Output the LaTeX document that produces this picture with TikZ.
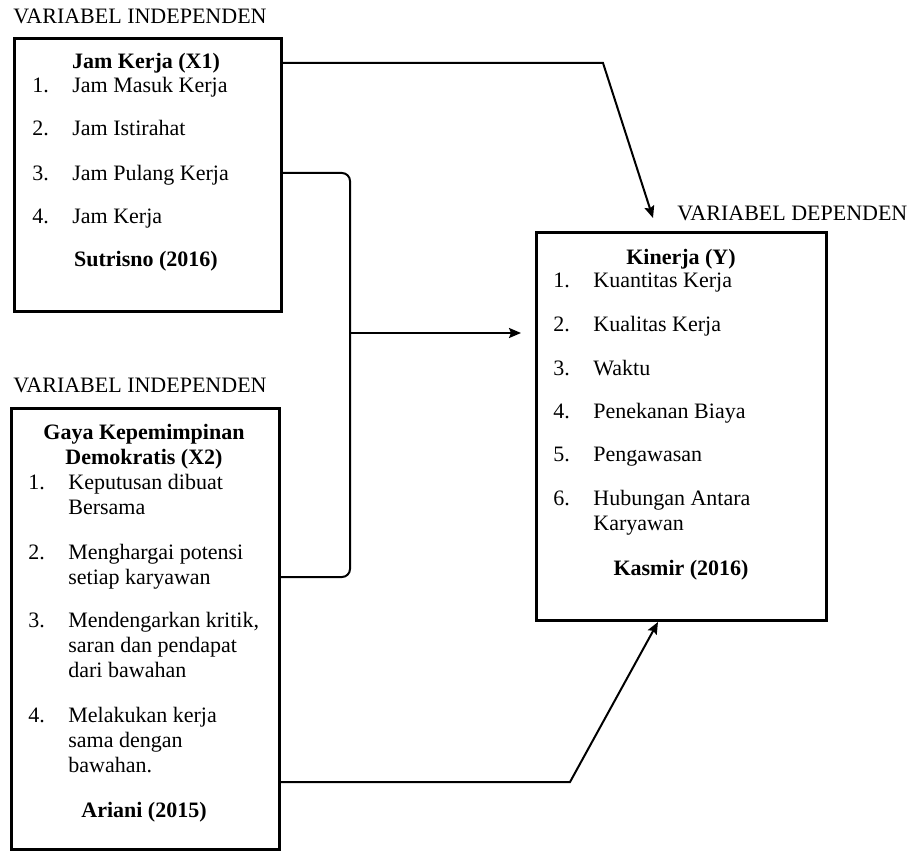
\documentclass[tikz,border=0pt]{standalone}
\usepackage{fontspec}
\setmainfont{Liberation Serif}
\usetikzlibrary{positioning,arrows.meta}
\tikzset{
  varbox/.style={draw,line width=1.5pt,anchor=north west,inner sep=0pt},
  varlabel/.style={anchor=base west,inner sep=0pt},
  head/.style={anchor=base,inner sep=0pt,align=center,font=\fontsize{11}{12.5}\selectfont\bfseries},
  num/.style={anchor=base west,inner sep=0pt},
  item/.style={anchor=base west,inner sep=0pt,align=left},
  link/.style={line width=1pt},
  arr/.style={link,-{Stealth[length=6pt,width=5pt,inset=1pt]}}
}
\begin{document}
\begin{tikzpicture}[x=0.5pt,y=-0.5pt,font=\fontsize{11}{12.5}\selectfont]
\useasboundingbox (0,0) rectangle (913,850);
% boxes
\node[varbox,minimum width=133.5pt,minimum height=136.5pt] (jam) at (13,37) {};
\node[varbox,minimum width=134pt,minimum height=220.5pt] (gaya) at (10,407) {};
\node[varbox,minimum width=145pt,minimum height=194pt] (kinerja) at (535,231) {};
% labels
\node[varlabel] (lab1) at (13,24) {VARIABEL INDEPENDEN};
\node[varlabel] (lab2) at (13,392) {VARIABEL INDEPENDEN};
\node[varlabel] (lab3) at (677,220) {VARIABEL DEPENDEN};
% Jam Kerja (X1)
\node[head] (jamhead) at (146,69) {Jam Kerja (X1)};
\foreach \n/\t/\y/\z [count=\i] in {1./Jam Masuk Kerja/93/93,2./Jam Istirahat/136/136,
3./Jam Pulang Kerja/180/180,4./Jam Kerja/223/223}{
\node[num] (jn\i) at (32,\y) {\n};
\node[item] (jt\i) at (72,\z) {\t};
}
\node[head] (jamsrc) at (146,266) {Sutrisno (2016)};
% Gaya Kepemimpinan Demokratis (X2) -- \z is the baseline of the last line
\node[head] (gayahead) at (144,464) {Gaya Kepemimpinan\\Demokratis (X2)};
\foreach \n/\t/\y/\z [count=\i] in {1./{Keputusan dibuat\\Bersama}/489/514,
2./{Menghargai potensi\\setiap karyawan}/559/584,
3./{Mendengarkan kritik,\\saran dan pendapat\\dari bawahan}/627/677,
4./{Melakukan kerja\\sama dengan\\bawahan.}/722/772}{
\node[num] (gn\i) at (28,\y) {\n};
\node[item] (gt\i) at (68,\z) {\t};
}
\node[head] (gayasrc) at (144,817) {Ariani (2015)};
% Kinerja (Y)
\node[head] (kinhead) at (681,264) {Kinerja (Y)};
\foreach \n/\t/\y/\z [count=\i] in {1./Kuantitas Kerja/287/287,2./Kualitas Kerja/331/331,
3./Waktu/375/375,4./Penekanan Biaya/418/418,5./Pengawasan/461/461,
6./{Hubungan Antara\\Karyawan}/505/530}{
\node[num] (kn\i) at (553,\y) {\n};
\node[item] (kt\i) at (593,\z) {\t};
}
\node[head] (kinsrc) at (681,575) {Kasmir (2016)};
% connectors
\coordinate (bend1) at (603,63);
\coordinate (aim1) at (653,218);
\draw[arr] (jam.east |- bend1) -- (bend1) -- (aim1);
\coordinate (brtop) at (350,173);
\coordinate (brbot) at (350,577);
\draw[link,rounded corners=4pt] (jam.east |- brtop) -- (brtop) -- (brbot) -- (gaya.east |- brbot);
\coordinate (mid) at (350,333);
\coordinate (aim2) at (521,333);
\draw[arr] (mid) -- (aim2);
\coordinate (bend3) at (570,782);
\coordinate (aim3) at (658,0);
\draw[arr] (gaya.east |- bend3) -- (bend3) -- (kinerja.south -| aim3);
\end{tikzpicture}
\end{document}
